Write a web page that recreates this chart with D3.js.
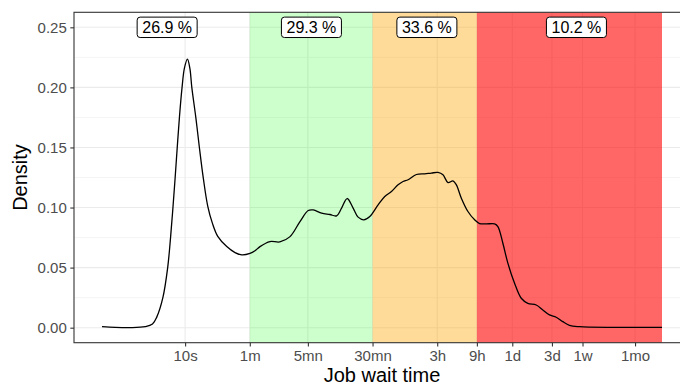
<!DOCTYPE html>
<html>
<head>
<meta charset="utf-8">
<script src="https://cdn.jsdelivr.net/npm/d3@7"></script>
<style>
  html, body { margin: 0; padding: 0; background: #fff; }
  svg { display: block; font-family: "Liberation Sans", Arial, sans-serif; }
</style>
</head>
<body>
<svg id="chart" width="680" height="385"></svg>
<script>
// Wait time (seconds) and estimated density of log10(wait time)
const waitSeconds = [
  1.0, 1.44, 2.18, 3.31, 4.05, 4.57, 5.40, 6.17, 6.68, 7.14, 7.59, 8.04, 8.54, 9.19,
  9.81, 10.66, 11.40, 12.04, 13.45, 14.85, 16.59, 18.74, 21.28, 24.71, 31.7, 39.9,
  48.0, 60.4, 69.3, 79.6, 105, 138, 183, 241, 303, 348, 439, 552, 664, 763, 890,
  1051, 1207, 1413, 1669, 2099, 2526, 3040, 3650, 4191, 4813, 6070, 7637, 9193,
  11030, 12670, 14550, 16710, 18350, 21070, 25290, 30440, 34960, 42070, 52930,
  57990, 66580, 76440, 92040, 110800, 132900, 167700, 201300, 242300, 291600,
  350100, 421300, 555500, 732600, 1680000, 5470000
];
const density = [
  0.0008, 0.0002, 0.0000, 0.0008, 0.003, 0.009, 0.025, 0.050, 0.075, 0.100, 0.125,
  0.150, 0.175, 0.200, 0.216, 0.2235, 0.216, 0.200, 0.175, 0.150, 0.124, 0.101,
  0.087, 0.076, 0.0675, 0.0625, 0.0606, 0.0618, 0.0640, 0.0675, 0.0717, 0.0714,
  0.0758, 0.0883, 0.0975, 0.0980, 0.0953, 0.0942, 0.0931, 0.0995, 0.1075, 0.0995,
  0.0920, 0.0898, 0.0925, 0.1022, 0.1092, 0.1133, 0.1189, 0.1217, 0.1231, 0.1275,
  0.1281, 0.1287, 0.1292, 0.1272, 0.1208, 0.1222, 0.1189, 0.1078, 0.0967, 0.0898,
  0.0867, 0.0864, 0.0864, 0.0842, 0.0703, 0.0537, 0.0370, 0.0245, 0.0203, 0.0189,
  0.0148, 0.0106, 0.0087, 0.0050, 0.0020, 0.0008, 0.0004, 0.0003, 0.0003
];

// Wait-time classes: [start, end] in seconds, fill colour and opacity
const classStart = [1.0, 60, 1800, 32400];
const classEnd = [60, 1800, 32400, 5470000];
const classFill = ["#ffffff", "#00ff00", "#ffa500", "#ff0000"];
const classAlpha = [0, 0.2, 0.4, 0.6];

// Share of jobs in each class, placed at a wait time along the top
const shareText = ["26.9 %", "29.3 %", "33.6 %", "10.2 %"];
const shareAt = [6.08, 331, 8110, 511000];
const shareY = 0.25;

// Axis ticks
const xTickValues = [10, 60, 300, 1800, 10800, 32400, 86400, 259200, 604800, 2592000];
const xTickLabels = ["10s", "1m", "5mn", "30mn", "3h", "9h", "1d", "3d", "1w", "1mo"];
const yTickValues = [0, 0.05, 0.10, 0.15, 0.20, 0.25];
const yMinorValues = [0.025, 0.075, 0.125, 0.175, 0.225];

const margin = { left: 74, top: 12.3, right: 690, bottom: 342.7 };
const svg = d3.select("#chart");

const x = d3.scaleLog()
  .domain([Math.pow(10, -0.3369), Math.pow(10, 7.0749)])
  .range([margin.left, margin.right]);
const y = d3.scaleLinear()
  .domain([-0.0125, 0.2625])
  .range([margin.bottom, margin.top]);

// Grid
const grid = svg.append("g");
grid.selectAll("line.minor").data(yMinorValues).join("line")
  .attr("x1", margin.left).attr("x2", margin.right)
  .attr("y1", d => y(d)).attr("y2", d => y(d))
  .attr("stroke", "#ebebeb").attr("stroke-width", 0.55);
grid.selectAll("line.majory").data(yTickValues).join("line")
  .attr("x1", margin.left).attr("x2", margin.right)
  .attr("y1", d => y(d)).attr("y2", d => y(d))
  .attr("stroke", "#ebebeb").attr("stroke-width", 1.1);
grid.selectAll("line.majorx").data(xTickValues).join("line")
  .attr("y1", margin.top).attr("y2", margin.bottom)
  .attr("x1", d => x(d)).attr("x2", d => x(d))
  .attr("stroke", "#ebebeb").attr("stroke-width", 1.1);

// Class bands
svg.append("g").selectAll("rect").data(classStart).join("rect")
  .attr("x", (d, i) => x(d))
  .attr("width", (d, i) => x(classEnd[i]) - x(d))
  .attr("y", margin.top)
  .attr("height", margin.bottom - margin.top)
  .attr("fill", (d, i) => classFill[i])
  .attr("fill-opacity", (d, i) => classAlpha[i]);

// Density curve
const pts = waitSeconds.map((s, i) => [s, density[i]]);
svg.append("path")
  .datum(pts)
  .attr("fill", "none")
  .attr("stroke", "#000")
  .attr("stroke-width", 1.3)
  .attr("stroke-linejoin", "round")
  .attr("d", d3.line().x(d => x(d[0])).y(d => y(d[1])).curve(d3.curveCatmullRom.alpha(0.5)));

// Share labels
const lab = svg.append("g").selectAll("g").data(shareText).join("g")
  .attr("transform", (d, i) => `translate(${x(shareAt[i])},${y(shareY)})`);
lab.append("rect")
  .attr("x", -30).attr("y", -10.2).attr("width", 60).attr("height", 20.4)
  .attr("rx", 3).attr("ry", 3)
  .attr("fill", "#fff").attr("stroke", "#000").attr("stroke-width", 1);
lab.append("text")
  .attr("text-anchor", "middle").attr("dy", "0.36em")
  .attr("font-size", 16).attr("fill", "#000")
  .text(d => d);

// Panel border
svg.append("rect")
  .attr("x", margin.left).attr("y", margin.top)
  .attr("width", margin.right - margin.left).attr("height", margin.bottom - margin.top)
  .attr("fill", "none").attr("stroke", "#333").attr("stroke-width", 1.1);

// Axes
const xAxis = svg.append("g")
  .attr("transform", `translate(0,${margin.bottom})`)
  .call(d3.axisBottom(x).tickValues(xTickValues)
    .tickFormat((d, i) => xTickLabels[i]).tickSize(3.7).tickPadding(3.5));
const yAxis = svg.append("g")
  .attr("transform", `translate(${margin.left},0)`)
  .call(d3.axisLeft(y).tickValues(yTickValues)
    .tickFormat(d3.format(".2f")).tickSize(3.7).tickPadding(3.5));
[xAxis, yAxis].forEach(a => {
  a.select(".domain").remove();
  a.selectAll(".tick line").attr("stroke", "#333").attr("stroke-width", 1.1);
  a.selectAll(".tick text").attr("fill", "#4d4d4d").attr("font-size", 15)
    .attr("font-family", "'Liberation Sans', Arial, sans-serif");
});

// Axis titles
svg.append("text")
  .attr("x", (margin.left + margin.right) / 2).attr("y", 382)
  .attr("text-anchor", "middle").attr("font-size", 20).attr("fill", "#000")
  .text("Job wait time");
svg.append("text")
  .attr("transform", `translate(27,${(margin.top + margin.bottom) / 2}) rotate(-90)`)
  .attr("text-anchor", "middle").attr("font-size", 20).attr("fill", "#000")
  .text("Density");
</script>
</body>
</html>
